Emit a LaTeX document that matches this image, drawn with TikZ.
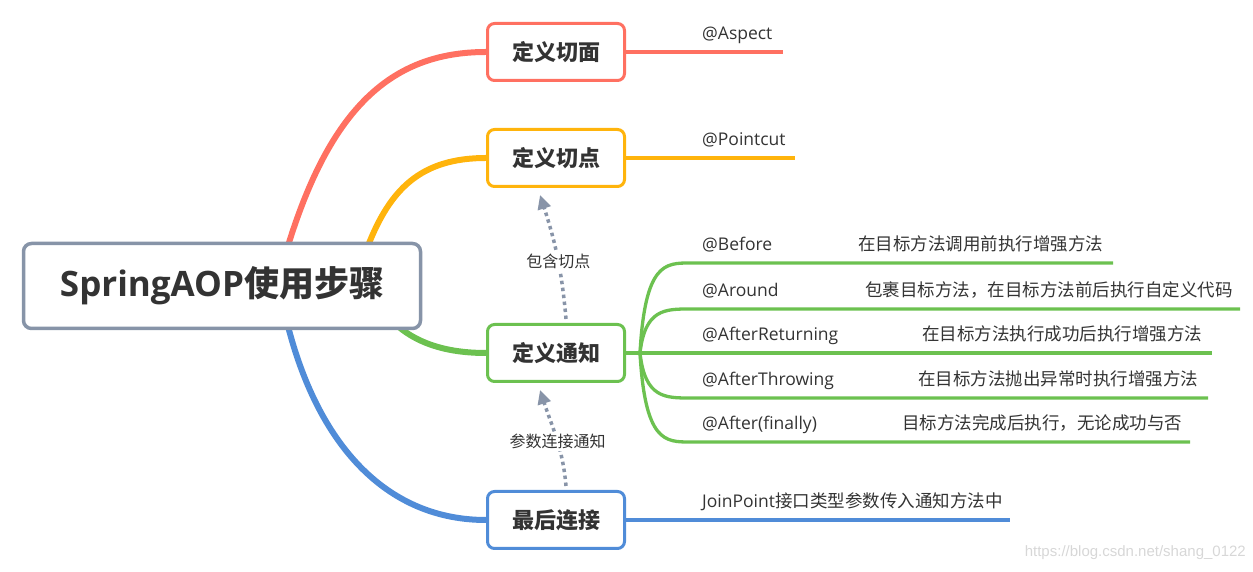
\documentclass[tikz,border=0pt]{standalone}
\usepackage{fontspec}
\setmainfont{Noto Sans CJK SC}
\newfontfamily\latinfont{Open Sans}
\newfontfamily\markfont{Liberation Sans}
\usetikzlibrary{arrows.meta, backgrounds}
\definecolor{redB}{RGB}{255, 112, 97}
\definecolor{orangeB}{RGB}{255, 180, 12}
\definecolor{greenB}{RGB}{108, 193, 80}
\definecolor{blueB}{RGB}{80, 140, 216}
\definecolor{rootC}{RGB}{135, 148, 168}
\definecolor{depC}{RGB}{136, 148, 168}
\definecolor{txt}{RGB}{51, 51, 51}
\definecolor{markC}{RGB}{215, 215, 215}

\begin{document}
\begin{tikzpicture}[x=1pt, y=1pt,
    root/.style={rectangle, rounded corners=8pt, draw=rootC, line width=3.5pt, fill=white,
                 minimum width=397pt, minimum height=85pt, text=txt,
                 font=\fontsize{35pt}{40pt}\selectfont\bfseries},
    topic/.style={rectangle, rounded corners=7pt, draw=#1, line width=3pt, fill=white,
                  minimum width=137pt, minimum height=57pt, text=txt,
                  font=\fontsize{22pt}{26pt}\selectfont\bfseries},
    leaf/.style={anchor=base west, inner sep=0pt, text=txt, font=\fontsize{17.5pt}{20pt}\selectfont},
    branch/.style={draw=#1, line width=6pt},
    twig/.style={draw=#1, line width=3.3pt},
    dep/.style={draw=depC, line width=3.5pt, dash pattern=on 3.5pt off 3.5pt,
                -{Triangle[width=13pt, length=14pt]}},
    deplabel/.style={fill=white, inner sep=2pt, text=txt, font=\fontsize{16pt}{19pt}\selectfont}]

    \useasboundingbox (0, 0) rectangle (1253, 572);

    % Root
    \node[root] (root) at (222, 286) {{\latinfont SpringAOP}使用步骤};

    % Topics
    \node[topic=redB] (aspect) at (556, 520) {定义切面};
    \node[topic=orangeB] (pointcut) at (556, 414) {定义切点};
    \node[topic=greenB] (advice) at (556, 219) {定义通知};
    \node[topic=blueB] (join) at (556, 52) {最后连接};

    % Branches
    \begin{scope}[on background layer]
        \draw[branch=redB] ([xshift=66pt, yshift=-4pt]root.north) .. controls (330, 462) and (390, 520) .. (aspect.west);
        \draw[branch=orangeB] ([xshift=146pt, yshift=-4pt]root.north) .. controls (390, 382) and (420, 414) .. (pointcut.west);
        \draw[branch=greenB] ([xshift=176pt, yshift=4pt]root.south) .. controls (420, 227) and (450, 219) .. (advice.west);
        \draw[branch=blueB] ([xshift=66pt, yshift=4pt]root.south) .. controls (320, 122) and (390, 52) .. (join.west);
    \end{scope}

    % Aspect and pointcut
    \coordinate (aspectEnd) at (783, 520);
    \coordinate (pointcutEnd) at (795, 414);
    \draw[twig=redB] (aspect.east) -- (aspectEnd);
    \draw[twig=orangeB] (pointcut.east) -- (pointcutEnd);
    \node[leaf] (aspectTag) at (702, 532) {\latinfont @Aspect};
    \node[leaf] (pointcutTag) at (702, 426) {\latinfont @Pointcut};

    % Advice kinds
    \coordinate (hub) at (640, 219);
    \coordinate (beforeEnd) at (1113, 309);
    \coordinate (aroundEnd) at (1240, 263);
    \coordinate (returnEnd) at (1212, 219);
    \coordinate (throwEnd) at (1208, 174);
    \coordinate (finallyEnd) at (1190, 130);
    \draw[twig=greenB] (advice.east) -- (hub);
    \draw[twig=greenB] (hub) .. controls (645, 309) and (665, 309) .. (690, 309) -- (beforeEnd);
    \draw[twig=greenB] (hub) .. controls (645, 263) and (665, 263) .. (690, 263) -- (aroundEnd);
    \draw[twig=greenB] (hub) -- (returnEnd);
    \draw[twig=greenB] (hub) .. controls (645, 174) and (665, 174) .. (690, 174) -- (throwEnd);
    \draw[twig=greenB] (hub) .. controls (645, 130) and (665, 130) .. (690, 130) -- (finallyEnd);

    \node[leaf] (before) at (702, 321) {\latinfont @Before};
    \node[leaf] (around) at (702, 275) {\latinfont @Around};
    \node[leaf] (returning) at (702, 231) {\latinfont @AfterReturning};
    \node[leaf] (throwing) at (702, 186) {\latinfont @AfterThrowing};
    \node[leaf] (finally) at (702, 142) {\latinfont @After(finally)};

    \node[leaf] (beforeText) at (858, 321) {在目标方法调用前执行增强方法};
    \node[leaf] (aroundText) at (865, 275) {包裹目标方法，在目标方法前后执行自定义代码};
    \node[leaf] (returningText) at (922, 231) {在目标方法执行成功后执行增强方法};
    \node[leaf] (throwingText) at (918, 186) {在目标方法抛出异常时执行增强方法};
    \node[leaf] (finallyText) at (902, 142) {目标方法完成后执行，无论成功与否};

    % Join point
    \coordinate (joinEnd) at (1010, 52);
    \draw[twig=blueB] (join.east) -- (joinEnd);
    \node[leaf] (joinText) at (702, 64) {{\latinfont JoinPoint}接口类型参数传入通知方法中};

    % Dependencies
    \draw[dep] ([xshift=10pt, yshift=4pt]advice.north) to[out=95, in=-72]
        node[deplabel, pos=0.45] (containsLabel) {包含切点} ([xshift=-16pt, yshift=-7pt]pointcut.south);
    \draw[dep] ([xshift=10pt, yshift=4pt]join.north) to[out=95, in=-72]
        node[deplabel, pos=0.45] (paramLabel) {参数连接通知} ([xshift=-16pt, yshift=-7pt]advice.south);

    % Watermark
    \node[anchor=east, inner sep=0pt, text=markC, font=\markfont\fontsize{15pt}{18pt}\selectfont]
        (watermark) at (1246, 19) {https://blog.csdn.net/shang\_0122};
\end{tikzpicture}
\end{document}
